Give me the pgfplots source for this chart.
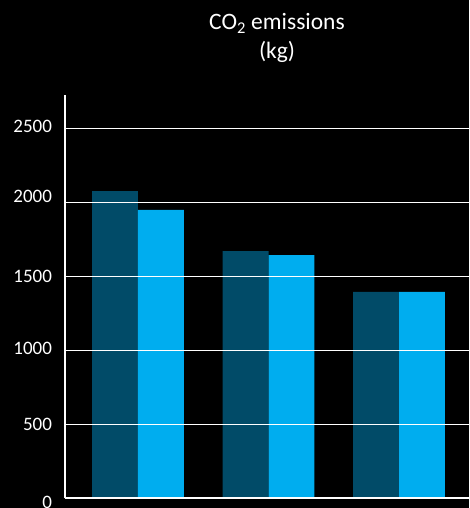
\documentclass[border=0pt]{standalone}
\usepackage{pgfplots}
\pgfplotsset{compat=1.18}
\usepackage{fontspec}
\setmainfont{Carlito}
\definecolor{darkbar}{RGB}{1,75,104}
\definecolor{lightbar}{RGB}{0,173,239}
\newcommand{\rb}[2]{\raisebox{#1}[\height][\depth]{#2}}
\begin{document}
\begin{tikzpicture}[x=1pt,y=1pt]
\fill[black] (0,0) rectangle (469,508);
\path[use as bounding box] (0,0) rectangle (469,508);
\node[white,anchor=base,font=\fontsize{23.5}{28}\selectfont] at (277,478) {CO\textsubscript{2} emissions};
\node[white,anchor=base,font=\fontsize{23.5}{28}\selectfont] at (277,449.7) {(kg)};
\begin{axis}[
  at={(65pt,9.7pt)}, anchor=south west,
  scale only axis, width=404pt, height=403.3pt,
  xmin=-0.559, xmax=2.536, ymin=0, ymax=2729,
  axis x line*=bottom, axis y line*=left,
  axis line style={white, line width=1.6pt, -},
  xtick=\empty,
  ytick={0,500,1000,1500,2000,2500},
  yticklabels={\rb{-4.5pt}{0},500,\rb{2pt}{1000},1500,\rb{6pt}{2000},\rb{2pt}{2500}},
  ymajorgrids, grid style={white, line width=1pt},
  major tick length=0pt,
  yticklabel style={white, font=\fontsize{19}{22}\selectfont, xshift=-9.5pt},
  axis on top,
  clip=false,
]
\addplot[ybar, bar width=0.352, bar shift=-0.176, fill=darkbar, draw=none]
  coordinates {(0,2079) (1,1673) (2,1396)};
\addplot[ybar, bar width=0.352, bar shift=0.176, fill=lightbar, draw=none]
  coordinates {(0,1951) (1,1646) (2,1396)};
\end{axis}
\end{tikzpicture}
\end{document}
